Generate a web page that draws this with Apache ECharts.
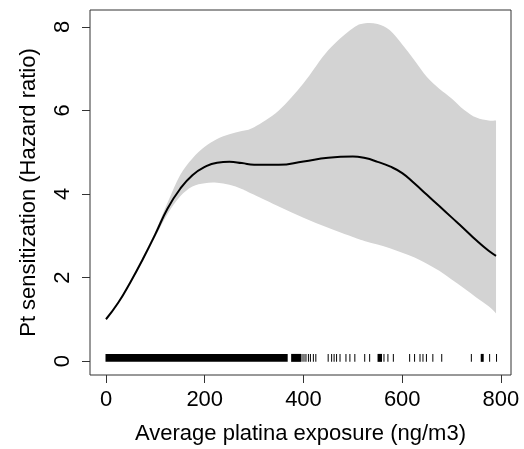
<!DOCTYPE html>
<html><head><meta charset="utf-8">
<script src="https://cdn.jsdelivr.net/npm/echarts@6/dist/echarts.min.js"></script>
<style>html,body{margin:0;padding:0;background:#fff}#c{width:524px;height:449px}</style>
</head><body><div id="c"></div>
<script>
// Exposure grid (ng/m3)
const exposure = [0, 25, 50, 75, 100, 125, 150, 175, 200, 225, 250, 275, 300, 350, 400, 450, 500, 525, 550, 575, 600, 625, 650, 675, 700, 725, 750, 775, 790];
// Fitted hazard ratio
const fit =   [1.00, 1.40, 1.90, 2.45, 3.04, 3.66, 4.12, 4.45, 4.65, 4.75, 4.77, 4.74, 4.70, 4.70, 4.78, 4.87, 4.90, 4.86, 4.77, 4.66, 4.50, 4.25, 3.98, 3.71, 3.44, 3.17, 2.89, 2.64, 2.52];
// Upper confidence limit
const upper = [1.00, 1.42, 1.93, 2.50, 3.10, 3.80, 4.45, 4.85, 5.13, 5.32, 5.43, 5.51, 5.60, 6.00, 6.65, 7.44, 7.97, 8.09, 8.07, 7.92, 7.58, 7.20, 6.80, 6.52, 6.29, 6.02, 5.83, 5.76, 5.76];
// Lower confidence limit
const lower = [1.00, 1.38, 1.87, 2.40, 2.98, 3.53, 3.94, 4.18, 4.26, 4.27, 4.22, 4.12, 3.98, 3.70, 3.43, 3.19, 2.97, 2.87, 2.79, 2.70, 2.59, 2.48, 2.33, 2.16, 1.95, 1.74, 1.52, 1.31, 1.14];
// Rug of observed exposures: [from, to]
const rugSegments = [[0, 367], [376, 394], [397, 397], [401, 401], [405, 405], [410, 410], [414, 414], [420, 420], [425, 425],
  [450, 450], [457, 457], [462, 462], [467, 467], [474, 474], [486, 486], [494, 494], [504, 504], [524, 524], [534, 534],
  [551, 558], [563, 563], [571, 571], [582, 582], [615, 615], [625, 625], [636, 636], [642, 642], [649, 649], [662, 662],
  [680, 680], [740, 740], [760, 764], [777, 777], [791, 791]];
const xTicks = [0, 200, 400, 600, 800];
const yTicks = [0, 2, 4, 6, 8];

const FONT = 'Liberation Sans, Arial, Helvetica, sans-serif';

// smooth path (Catmull-Rom as cubic Bezier) through pixel points
function curvePath(pts, startCmd) {
  let d = startCmd + pts[0][0] + ' ' + pts[0][1];
  for (let i = 0; i < pts.length - 1; i++) {
    const p0 = pts[Math.max(0, i - 1)], p1 = pts[i], p2 = pts[i + 1], p3 = pts[Math.min(pts.length - 1, i + 2)];
    const c1x = p1[0] + (p2[0] - p0[0]) / 6, c1y = p1[1] + (p2[1] - p0[1]) / 6;
    const c2x = p2[0] - (p3[0] - p1[0]) / 6, c2y = p2[1] - (p3[1] - p1[1]) / 6;
    d += ' C' + c1x + ' ' + c1y + ' ' + c2x + ' ' + c2y + ' ' + p2[0] + ' ' + p2[1];
  }
  return d;
}

const chart = echarts.init(document.getElementById('c'));
chart.setOption({
  animation: false,
  backgroundColor: '#fff',
  grid: { left: 90, right: 13, top: 10, bottom: 74, show: true, borderColor: '#333', borderWidth: 1,
    backgroundColor: 'transparent', containLabel: false, outerBoundsMode: 'none' },
  xAxis: {
    type: 'value', min: -32.4, max: 820.3,
    name: 'Average platina exposure (ng/m3)', nameLocation: 'middle', nameGap: 48,
    nameTextStyle: { fontFamily: FONT, fontSize: 22, color: '#000' },
    axisLine: { show: false, onZero: false },
    axisTick: { show: true, inside: false, length: 8, lineStyle: { color: '#333', width: 1 }, customValues: xTicks },
    axisLabel: { fontFamily: FONT, fontSize: 22, color: '#000', margin: 14, customValues: xTicks },
    splitLine: { show: false }
  },
  yAxis: {
    type: 'value', min: -0.335, max: 8.407,
    name: 'Pt sensitization (Hazard ratio)', nameLocation: 'middle', nameGap: 50,
    nameTextStyle: { fontFamily: FONT, fontSize: 22, color: '#000' },
    axisLine: { show: false, onZero: false },
    axisTick: { show: true, inside: false, length: 8, lineStyle: { color: '#333', width: 1 }, customValues: yTicks },
    axisLabel: { fontFamily: FONT, fontSize: 22, color: '#000', margin: 16, rotate: 90, customValues: yTicks },
    splitLine: { show: false }
  },
  series: [
    { type: 'custom', silent: true, z: 1,
      data: [[exposure[0], upper[0]]],
      renderItem: function (params, api) {
        const up = exposure.map((x, i) => api.coord([x, upper[i]]));
        const lo = exposure.map((x, i) => api.coord([x, lower[i]])).reverse();
        const d = curvePath(up, 'M') + ' ' + curvePath(lo, 'L') + ' Z';
        return { type: 'path', shape: { pathData: d }, style: { fill: '#D3D3D3', stroke: null } };
      } },
    { type: 'line', smooth: true, symbol: 'none', silent: true,
      data: exposure.map((x, i) => [x, fit[i]]), lineStyle: { color: '#000', width: 2 }, z: 3 },
    { type: 'custom', silent: true, z: 4,
      data: rugSegments,
      encode: { x: [0, 1] },
      renderItem: function (params, api) {
        const a = api.coord([api.value(0), -0.02]);
        const b = api.coord([api.value(1), 0.17]);
        return { type: 'rect', shape: { x: a[0] - 0.5, y: b[1], width: Math.max(1, b[0] - a[0] + 1), height: a[1] - b[1] }, style: { fill: '#000' } };
      } }
  ]
});
</script></body></html>
